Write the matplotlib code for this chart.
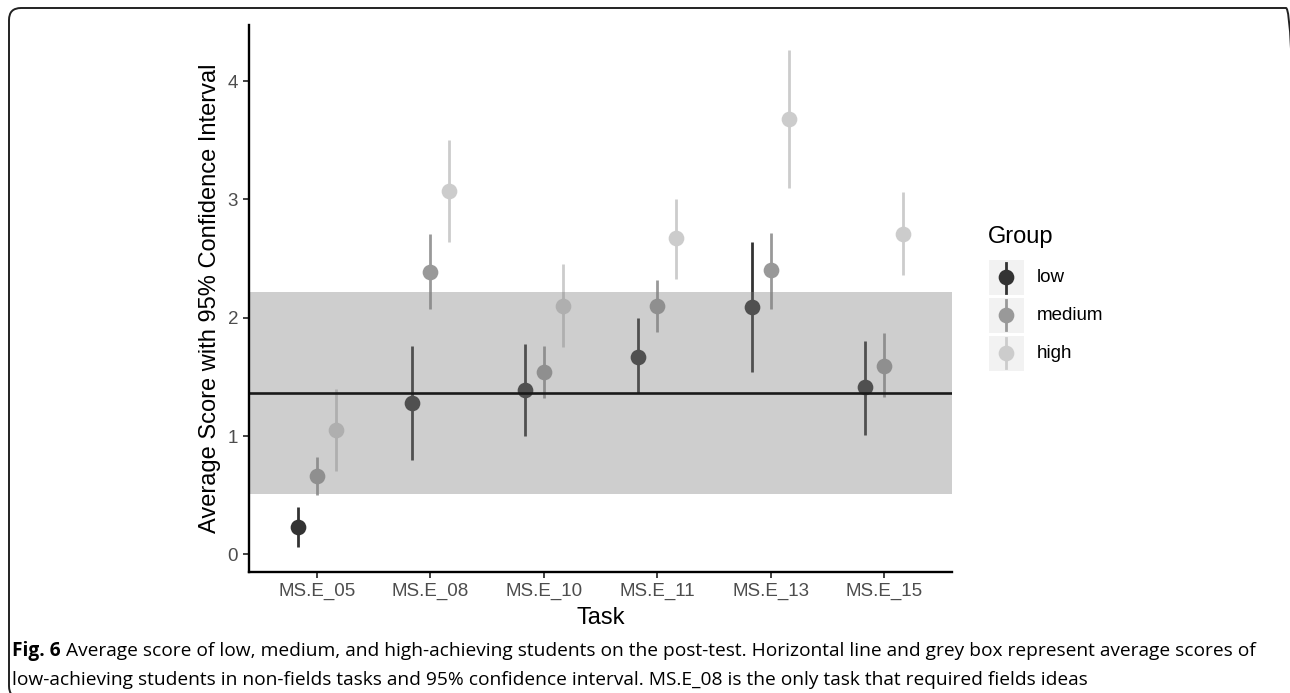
import matplotlib
matplotlib.use('Agg')
import matplotlib.pyplot as plt
from matplotlib.patches import FancyBboxPatch, Rectangle
from matplotlib.lines import Line2D
from matplotlib.transforms import IdentityTransform

# ---------------- data ----------------
tasks = ['MS.E_05', 'MS.E_08', 'MS.E_10', 'MS.E_11', 'MS.E_13', 'MS.E_15']
groups = ['low', 'medium', 'high']

low_mean = [0.23, 1.28, 1.39, 1.67, 2.09, 1.41]
low_lo = [0.06, 0.80, 1.00, 1.36, 1.54, 1.01]
low_hi = [0.40, 1.76, 1.78, 2.00, 2.64, 1.80]

medium_mean = [0.66, 2.39, 1.54, 2.10, 2.40, 1.59]
medium_lo = [0.50, 2.07, 1.32, 1.88, 2.07, 1.33]
medium_hi = [0.82, 2.71, 1.76, 2.32, 2.72, 1.87]

high_mean = [1.05, 3.07, 2.10, 2.67, 3.68, 2.71]
high_lo = [0.70, 2.64, 1.75, 2.33, 3.10, 2.36]
high_hi = [1.40, 3.50, 2.45, 3.00, 4.26, 3.06]

ref_mean = 1.36
ref_lo = 0.51
ref_hi = 2.22

y_ticks = [0, 1, 2, 3, 4]

caption_bold = 'Fig. 6'
caption_line1 = ('Average score of low, medium, and high-achieving students on the post-test. '
                 'Horizontal line and grey box represent average scores of')
caption_line2 = ('low-achieving students in non-fields tasks and 95% confidence interval. '
                 'MS.E_08 is the only task that required fields ideas')

# ---------------- styling ----------------
colors = {'low': '#333333', 'medium': '#999999', 'high': '#cccccc'}
series = {
    'low': (low_mean, low_lo, low_hi),
    'medium': (medium_mean, medium_lo, medium_hi),
    'high': (high_mean, high_lo, high_hi),
}
offsets = {'low': -1 / 6, 'medium': 0.0, 'high': 1 / 6}

W, H = 1290, 693
plt.rcParams['font.family'] = ['Liberation Sans', 'DejaVu Sans']
fig = plt.figure(figsize=(W / 100, H / 100), dpi=100)
fig.patch.set_facecolor('white')

def fx(px):
    return px / W

def fy(py):
    return 1 - py / H

ax = fig.add_axes([fx(249), fy(571.7), fx(952) - fx(249), fy(25) - fy(571.7)])
ax.set_facecolor('white')

for g in groups:
    m, lo, hi = series[g]
    xs = [i + 1 + offsets[g] for i in range(len(tasks))]
    ax.vlines(xs, lo, hi, colors=colors[g], linewidth=2.0, zorder=2)
    ax.plot(xs, m, linestyle='none', marker='o', markersize=11.3,
            markerfacecolor=colors[g], markeredgewidth=0, zorder=3)

# reference box (drawn over the marks, semi-transparent) and line
ax.axhspan(ref_lo, ref_hi, facecolor=(0.5, 0.5, 0.5), alpha=0.38,
           edgecolor='none', zorder=4)
ax.axhline(ref_mean, color='#1a1a1a', linewidth=1.9, zorder=5)

ax.set_xlim(0.4, 6.6)
ax.set_ylim(-0.147, 4.474)
ax.set_xticks(range(1, len(tasks) + 1))
ax.set_xticklabels(tasks)
ax.set_yticks(y_ticks)
ax.set_yticklabels([str(v) for v in y_ticks])

for side in ['top', 'right']:
    ax.spines[side].set_visible(False)
for side in ['left', 'bottom']:
    ax.spines[side].set_linewidth(1.7)
    ax.spines[side].set_color('black')
    ax.spines[side].set_zorder(6)

ax.tick_params(axis='both', length=4.3, width=1.3, color='#333333',
               labelsize=13.5, labelcolor='#4d4d4d', pad=3.6)

ax.set_xlabel('Task', fontsize=17, color='black', labelpad=5)
ax.set_ylabel('Average Score with 95% Confidence Interval', fontsize=17,
              color='black', labelpad=5)

# ---------------- legend (manual, ggplot style) ----------------
fig.text(fx(988), fy(237), 'Group', fontsize=17, ha='left', va='center')
row_centers = [277.5, 315.3, 353.2]
for g, cy in zip(groups, row_centers):
    fig.add_artist(Rectangle((fx(989), fy(cy + 17.3)), fx(34.5), 34.6 / H,
                             transform=fig.transFigure, facecolor='#f2f2f2',
                             edgecolor='none'))
    fig.add_artist(Line2D([fx(1006), fx(1006)], [fy(cy - 15), fy(cy + 15)],
                          transform=fig.transFigure, color=colors[g], linewidth=2.0))
    fig.add_artist(Line2D([fx(1006)], [fy(cy)], transform=fig.transFigure,
                          marker='o', markersize=11.3, markerfacecolor=colors[g],
                          markeredgewidth=0, linestyle='none'))
    fig.text(fx(1037), fy(cy), g, fontsize=13.5, ha='left', va='center')

# ---------------- outer rounded frame ----------------
frame = FancyBboxPatch((9, -5), 1289, (H - 8) + 5,
                       boxstyle='round,pad=0,rounding_size=12',
                       transform=IdentityTransform(), facecolor='none',
                       edgecolor='#222222', linewidth=1.4)
fig.add_artist(frame)

# ---------------- caption ----------------
cap_font = ['Open Sans', 'DejaVu Sans']
cap_size = 13.8
t_bold = fig.text(fx(12), fy(651), caption_bold, fontsize=cap_size,
                  fontweight='bold', family=cap_font, ha='left', va='center')
fig.canvas.draw()
r = fig.canvas.get_renderer()
bb = t_bold.get_window_extent(renderer=r)
space_px = 5.5
fig.text((bb.x1 + space_px) / W, fy(651), caption_line1, fontsize=cap_size,
         family=cap_font, ha='left', va='center')
fig.text(fx(12), fy(680), caption_line2, fontsize=cap_size,
         family=cap_font, ha='left', va='center')

fig.savefig('out.png', dpi=100, facecolor='white')
